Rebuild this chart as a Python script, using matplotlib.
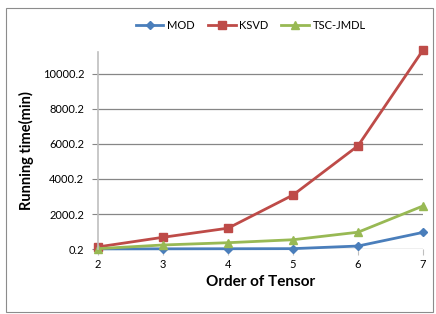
import matplotlib
matplotlib.use("Agg")
import matplotlib.pyplot as plt
from matplotlib.patches import Rectangle

plt.rcParams['font.family'] = ['Lato', 'DejaVu Sans']

orders = [2, 3, 4, 5, 6, 7]
mod_time = [5, 10, 15, 20, 170, 950]
ksvd_time = [120, 670, 1190, 3085, 5900, 11370]
tsc_time = [20, 230, 360, 530, 960, 2460]
yticks = [0.2, 2000.2, 4000.2, 6000.2, 8000.2, 10000.2]

fig = plt.figure(figsize=(4.36, 3.14), dpi=100)
fig.patches.append(Rectangle((0.014, 0.005), 0.979, 0.97, transform=fig.transFigure,
                             fill=False, edgecolor="#8c8c8c", linewidth=0.8))
ax = fig.add_axes([0.2248, 0.207, 0.7455, 0.627])

ax.plot(orders, mod_time, color="#4a7ebb", marker="D", markersize=4, linewidth=2,
        label="MOD", clip_on=False)
ax.plot(orders, ksvd_time, color="#be4b48", marker="s", markersize=5.5, linewidth=2,
        label="KSVD", clip_on=False)
ax.plot(orders, tsc_time, color="#98b954", marker="^", markersize=6, linewidth=2,
        label="TSC-JMDL", clip_on=False)

ax.set_xlim(2, 7)
ax.set_ylim(0.2, 11250)
ax.set_xticks(orders)
ax.set_yticks(yticks)
ax.set_yticklabels([f"{v:.1f}" for v in yticks])
ax.grid(axis="y", color="#868686", linewidth=0.9)
ax.set_axisbelow(True)
for s in ["top", "right", "bottom"]:
    ax.spines[s].set_visible(False)
ax.spines["left"].set_color("#bfbfbf")
ax.spines["left"].set_linewidth(1.2)
ax.tick_params(axis="y", length=4, color="#868686", labelsize=8, pad=6)
ax.tick_params(axis="x", length=4, color="#bfbfbf", labelsize=8, pad=3)

ax.set_xlabel("Order of Tensor", fontsize=11, fontweight="bold", labelpad=4)
ax.set_ylabel("Running time(min)", fontsize=10.5, fontweight="bold", labelpad=6)

fig.legend(loc="center", bbox_to_anchor=(0.575, 0.92), ncol=3, frameon=False,
           fontsize=8, handlelength=2.5, columnspacing=1.2, handletextpad=0.3)

fig.savefig("out.png", dpi=100)
